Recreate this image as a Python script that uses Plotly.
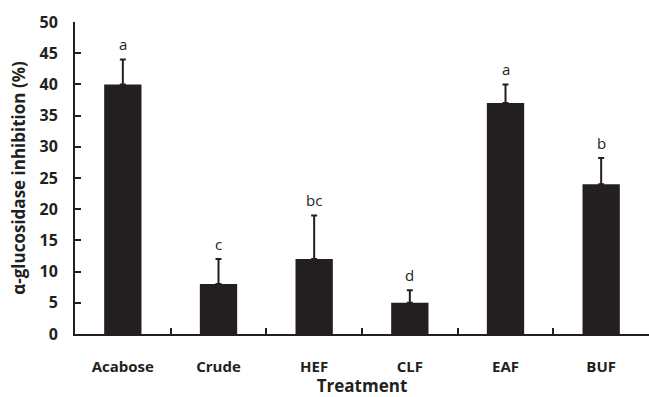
import plotly.graph_objects as go

categories = ["Acabose", "Crude", "HEF", "CLF", "EAF", "BUF"]
values = [40, 8, 12, 5, 37, 24]
errors = [4, 4, 7, 2, 3, 4.2]
letters = ["a", "c", "bc", "d", "a", "b"]
y_ticks = [0, 5, 10, 15, 20, 25, 30, 35, 40, 45, 50]

dark = "#231f20"
font_family = "Open Sans, Arial, sans-serif"

fig = go.Figure()
fig.add_trace(go.Bar(
    x=categories, y=values, width=0.39,
    marker=dict(color=dark, line=dict(color=dark, width=0)),
    error_y=dict(type="data", symmetric=False, array=errors,
                 arrayminus=[0] * len(errors),
                 color=dark, thickness=2, width=3),
))

for c, v, e, l in zip(categories, values, errors, letters):
    fig.add_annotation(x=c, y=v + e, text=l, showarrow=False,
                       yanchor="bottom", yshift=3,
                       font=dict(family=font_family, size=15, color=dark))

fig.update_layout(
    width=649, height=397,
    margin=dict(l=75, r=0, t=22, b=63),
    plot_bgcolor="white", paper_bgcolor="white",
    showlegend=False, bargap=0.6,
    font=dict(family=font_family, color=dark),
)
fig.update_yaxes(
    range=[0, 50], tickvals=y_ticks, ticks="inside", ticklen=6,
    tickwidth=1.5, tickcolor=dark, showline=True, linecolor=dark,
    linewidth=2, showgrid=False, zeroline=False,
    tickfont=dict(family=font_family, size=16, color=dark, weight="bold"),
    ticklabelstandoff=12,
    title=dict(text="α-glucosidase inhibition (%)", standoff=10,
               font=dict(family=font_family, size=17, color=dark, weight="bold")),
)
fig.update_xaxes(
    ticks="inside", tickson="boundaries", ticklen=6, tickwidth=1.5,
    tickcolor=dark, showline=True, linecolor=dark, linewidth=2,
    showgrid=False, range=[-0.5, 5.5],
    tickfont=dict(family=font_family, size=15, color=dark, weight="bold"),
    ticklabelstandoff=18,
    title=dict(text="Treatment", standoff=2,
               font=dict(family=font_family, size=17, color=dark, weight="bold")),
)

fig.write_html("out.html")
